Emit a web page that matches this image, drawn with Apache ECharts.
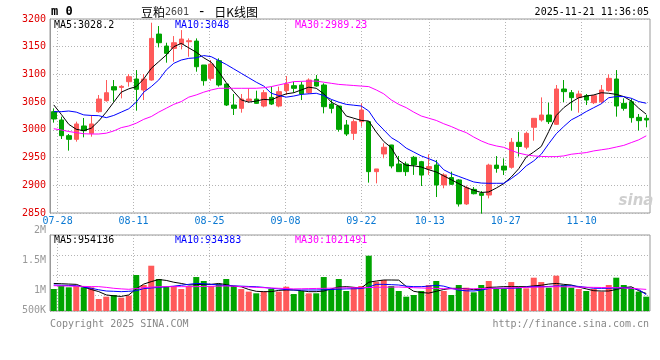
<!DOCTYPE html>
<html><head><meta charset="utf-8">
<script src="https://cdn.jsdelivr.net/npm/echarts@6/dist/echarts.min.js"></script>
<style>html,body{margin:0;padding:0;background:#fff}#c{width:660px;height:360px}</style>
</head><body><div id="c"></div>
<script>
const dates = ['07-25','07-28','07-29','07-30','07-31','08-01','08-04','08-05','08-06','08-07','08-08','08-11','08-12','08-13','08-14','08-15','08-18','08-19','08-20','08-21','08-22','08-25','08-26','08-27','08-28','08-29','09-01','09-02','09-03','09-04','09-05','09-08','09-09','09-10','09-11','09-12','09-15','09-16','09-17','09-18','09-19','09-22','09-23','09-24','09-25','09-26','09-29','09-30','10-09','10-10','10-13','10-14','10-15','10-16','10-17','10-20','10-21','10-22','10-23','10-24','10-27','10-28','10-29','10-30','10-31','11-03','11-04','11-05','11-06','11-07','11-10','11-11','11-12','11-13','11-14','11-17','11-18','11-19','11-20','11-21'];
const opens = [3032.8,3017.8,2989.5,2982.9,3007,2993.7,3032.8,3052.6,3077.9,3076.6,3086.9,3091.7,3071.9,3089.9,3172.8,3151.2,3147,3154.8,3159,3160.2,3117,3092.9,3124.8,3082.7,3044.8,3038.8,3052.6,3055.6,3043,3058.6,3043,3070.7,3079.7,3080.9,3067.1,3091.1,3080.9,3046.6,3043,3008.8,2993.7,3014.8,3014.8,2924.6,2956.5,2972.7,2938.4,2938.4,2950.5,2942.6,2929.5,2936.6,2900.6,2913.9,2909.6,2866.3,2892.7,2885.4,2882.4,2936.4,2934.6,2932.4,2977.6,2968.8,3004.6,3017.8,3026.8,3010,3073.7,3067.1,3058.1,3061.7,3049,3050.8,3070.7,3091.7,3047.8,3050.8,3022.6,3020.8];
const closes = [3019.6,2989.5,2982.9,3010.6,2998.5,3010.6,3055.6,3067,3071.9,3078.5,3095.9,3073.1,3091.7,3165,3157.2,3138,3157.2,3163.8,3160.8,3113.9,3088.7,3118.7,3080.9,3044.8,3038.8,3055.6,3055.6,3047.8,3067.1,3046.6,3068.9,3082.7,3074.9,3064.7,3089.9,3079.1,3041.8,3038.8,3000.9,2992.5,3014.8,3035.8,2924.6,2929.5,2968.6,2934.8,2924.6,2924.6,2936.6,2918.4,2933.7,2900.6,2918.7,2901.8,2866.3,2895.8,2884.8,2881.8,2936.4,2930.5,2927.5,2977.6,2970,2993.7,3020.8,3026.8,3014.8,3073.7,3068.9,3058.1,3064.7,3053.8,3061.7,3071.9,3092.9,3043,3038.8,3022,3016.6,3017.8];
const lows = [3013,2983.5,2962.5,2978.7,2986.5,2987.7,3031,3050.8,3050.8,3056.8,3077.9,3034.6,3053.8,3088.7,3148.8,3121.2,3123,3145.2,3132,3104.9,3079.7,3088.7,3078,3043,3026.8,3031,3049.7,3047,3040.6,3044.8,3040.6,3062.9,3067.1,3053.8,3064.7,3077.9,3029.8,3029.8,2996.8,2989,2981.8,3005.8,2904.8,2903.5,2948.7,2930.6,2924,2916.9,2918.7,2898.7,2918.7,2878.8,2894.6,2900.6,2861.6,2864.5,2883.6,2848.8,2876.4,2922.7,2918.5,2930,2951.8,2965,2980.5,3014.8,3010.6,3008.8,3050.2,3034.6,3031,3044.8,3046.6,3047.8,3069,3023.8,3034.6,3013,2998.6,3004.6];
const highs = [3038.8,3023.8,2992.5,3014.8,3021.4,3026.8,3062.9,3089.9,3089.9,3080.6,3100.7,3107.9,3100.7,3193.3,3187.3,3157.2,3169.2,3180,3165,3165,3117,3126,3129,3083,3064.7,3064.7,3074.9,3070.7,3071.9,3077.9,3077.9,3097.1,3086.9,3086.9,3092.9,3098.9,3084,3053.8,3043,3017.8,3019,3047.8,3014.8,2929.5,2975.8,2973,2952.9,2942.6,2952.9,2944,2955.9,2945.7,2921.7,2924.6,2911,2899.4,2896.8,2889.6,2938.9,2952.7,2948.5,2985.2,2996.4,2996.8,3021,3058.6,3049,3080.9,3089.9,3071.9,3070.7,3064.7,3062.9,3080.9,3100.1,3107.9,3056.8,3056.8,3028.6,3026.8];
const ma5 = [3045,3028,3010,3001,2998.5,3003,3016,3032,3050,3068,3074,3078,3092,3111,3123,3135,3150,3156,3148,3140,3130,3122,3105,3085,3069,3054,3050,3052,3055,3054,3060,3065,3067,3072,3077,3075,3065,3050,3043,3025,3021,3017,3016,2996,2979,2968,2945,2936,2935,2933,2928,2924,2917,2910,2903,2896,2891,2887,2888,2895,2903,2915,2930,2951,2960,2970,2997,3026,3040,3050,3058,3061,3063,3067,3066,3064,3060,3052,3039,3028.2];
const ma10 = [3032.8,3032.8,3034,3032,3027,3026,3025.6,3022,3026,3032,3038,3050,3068,3078,3090,3108,3120,3126,3129,3130,3134,3132,3125,3118,3110,3102,3094,3086,3079,3066,3062,3059,3061,3064,3065,3066,3062,3055,3050,3046,3044.5,3043,3034,3014,3000,2986,2978,2967,2960,2953,2948,2942.6,2928,2921,2916,2911,2906,2904,2903.6,2903.6,2903.6,2912,2922,2935,2944,2956,2975,2993,3006,3018,3025,3033,3040,3047,3058,3060,3060,3057,3051,3048];
const ma30 = [3002,2999.8,2997,2995,2993,2992.5,2992.5,2994,2998,3004,3007,3012,3019,3024,3032,3039,3046,3051,3059,3063,3068,3072,3075,3075,3075,3075,3075,3075,3076,3078,3081,3084,3087,3087.5,3088,3088,3086,3084,3082,3081,3080,3079,3078,3072,3065,3054,3046,3040,3032,3025,3021,3017,3011,3006,3000,2995,2987,2980,2974.5,2971,2968.5,2963,2958,2955,2953,2952,2951.7,2951.7,2953,2956,2957.5,2959,2962,2964,2966,2969,2972,2977,2982,2989.23];
const volumes = [1028000,1078000,1056000,1078000,1056000,1056000,863000,901000,929000,884000,918000,1260000,1094000,1413000,1193000,1066000,1078000,1028000,1078000,1226000,1160000,1078000,1110000,1193000,1078000,1028000,985000,957000,985000,1028000,985000,1066000,945000,995000,957000,957000,1226000,1028000,1193000,995000,1056000,1078000,1578000,1149000,1177000,1078000,995000,901000,929000,995000,1094000,1160000,995000,929000,1094000,1050000,973000,1094000,1160000,1039000,1039000,1143000,1066000,1039000,1215000,1143000,1050000,1248000,1094000,1050000,1028000,995000,1028000,985000,1094000,1215000,1094000,1050000,985000,901000];
const volMa5 = [1120000,1115000,1110000,1105000,1060000,1020000,985000,930000,915000,905000,930000,1030000,1110000,1150000,1185000,1170000,1140000,1120000,1095000,1100000,1105000,1105000,1120000,1100000,1075000,1065000,1020000,990000,984000,985000,1005000,1012000,1012000,1000000,984000,984000,995000,1030000,1060000,1067000,1056000,1045000,1140000,1160000,1177000,1177000,1175000,1070000,990000,970000,960000,990000,1020000,1039000,1039000,1035000,1015000,1030000,1055000,1060000,1067000,1067000,1067000,1067000,1080000,1090000,1110000,1120000,1105000,1094000,1060000,1030000,1000000,995000,995000,1020000,1050000,1065000,1000000,954136];
const volMa10 = [1094000,1090000,1087000,1083000,1060000,1040000,1015000,995000,990000,984000,990000,1000000,1035000,1045000,1055000,1065000,1075000,1090000,1105000,1120000,1115000,1105000,1095000,1085000,1080000,1075000,1070000,1065000,1055000,1040000,1030000,1020000,1012000,1012000,1012000,1012000,1015000,1020000,1025000,1030000,1032000,1035000,1060000,1105000,1105000,1100000,1094000,1075000,1067000,1067000,1075000,1090000,1075000,1040000,1010000,998000,995000,1010000,1035000,1039000,1039000,1039000,1045000,1060000,1067000,1067000,1070000,1078000,1080000,1083000,1070000,1055000,1040000,1039000,1040000,1045000,1050000,1040000,1020000,934383];
const volMa30 = [1083000,1080000,1077000,1074000,1071000,1068000,1067000,1055000,1040000,1030000,1023000,1035000,1050000,1060000,1065000,1067000,1067000,1067000,1067000,1067000,1070000,1073000,1076000,1078000,1074000,1068000,1060000,1055000,1050000,1045000,1040000,1035000,1030000,1032000,1035000,1037000,1039000,1042000,1045000,1048000,1049000,1050000,1052000,1055000,1058000,1060000,1061000,1055000,1050000,1045000,1040000,1037000,1034000,1031000,1028000,1030000,1033000,1036000,1038000,1039000,1043000,1047000,1051000,1055000,1058000,1061000,1064000,1067000,1065000,1062000,1059000,1057000,1055000,1053000,1051000,1050000,1045000,1040000,1030000,1021491];
const dateTickLabels = ['07-28','08-11','08-25','09-08','09-22','10-13','10-27','11-10'];
const priceTicks = {min: 2850, max: 3200, step: 50};
const volTicks = {min: 500000, max: 2000000, step: 500000};

const RED = '#ff5a5a', GREEN = '#00a400';
const MONO = 'DejaVu Sans Mono';
const lineIdx = dateTickLabels.map(d => dates.indexOf(d));
const dotted = {color: '#b4b4b4', width: 1, type: [1, 2]};
const upDown = closes.map((c, i) => c >= opens[i]);

function fmtVol(v) {
  if (v >= 1000000) return (v / 1000000) + 'M';
  return (v / 1000) + 'K';
}
// hidden band axis that positions the candles / bars
function bandAxis(gi) {
  return {type: 'category', gridIndex: gi, data: dates, boundaryGap: true, show: false};
}
// point axis that carries the date grid lines and labels
function lineAxis(gi, withLabels) {
  return {
    type: 'category', gridIndex: gi, data: dates, boundaryGap: false, position: 'bottom',
    axisLine: {show: false}, axisTick: {show: false},
    axisLabel: withLabels ? {
      interval: (i) => lineIdx.includes(i), margin: 3,
      fontFamily: MONO, fontSize: 10, color: '#0a78d2'
    } : {show: false},
    splitLine: {show: true, interval: (i) => lineIdx.includes(i), lineStyle: dotted}
  };
}
const volMin = 664500, volMax = 1920700;

const chart = echarts.init(document.getElementById('c'), null, {renderer: 'canvas'});
const last = a => a[a.length - 1];
const txt = (x, y, s, color, extra) => ({type: 'text', x, y, silent: true,
  style: Object.assign({text: s, fill: color, font: '10px "' + MONO + '"', verticalAlign: 'middle'}, extra || {})});

chart.setOption({
  animation: false,
  backgroundColor: '#fff',
  grid: [
    {left: 50, top: 19, width: 600, height: 194, show: true, borderColor: '#999', borderWidth: 1, backgroundColor: 'transparent'},
    {left: 50, top: 235, width: 600, height: 76, show: true, borderColor: '#999', borderWidth: 1, backgroundColor: 'transparent'},
    {left: 50, top: 230, width: 600, height: 90.7, show: false}
  ],
  xAxis: [
    bandAxis(0),
    lineAxis(0, true),
    bandAxis(1),
    lineAxis(1, false),
    {type: 'value', gridIndex: 2, show: false, min: 0, max: 1}
  ],
  yAxis: [
    {type: 'value', gridIndex: 0, min: priceTicks.min, max: priceTicks.max, interval: priceTicks.step,
     axisLine: {show: true, lineStyle: {color: '#999', width: 1}}, axisTick: {show: false},
     axisLabel: {color: '#e00000', fontFamily: MONO, fontSize: 10, margin: 4, padding: [0, 0, 5, 0],
       formatter: (v) => String(v)},
     splitLine: {show: true, lineStyle: dotted}},
    {type: 'value', gridIndex: 1, min: volMin, max: volMax,
     axisLine: {show: true, lineStyle: {color: '#999'}}, axisTick: {show: false},
     axisLabel: {show: false}, splitLine: {show: false}},
    {type: 'value', gridIndex: 1, min: 0, max: 3.8, interval: 1, inverse: true,
     axisLine: {show: false}, axisTick: {show: false}, axisLabel: {show: false},
     splitLine: {show: true, lineStyle: dotted}},
    {type: 'value', gridIndex: 2, min: volTicks.min, max: volTicks.max, interval: volTicks.step,
     axisLine: {show: false}, axisTick: {show: false}, splitLine: {show: false},
     axisLabel: {margin: 4, color: '#999',
       formatter: (v) => v === volTicks.min ? '{lo|' + fmtVol(v) + '}' : '{n|' + fmtVol(v) + '}',
       rich: {n: {fontFamily: MONO, fontSize: 10, color: '#999'},
              lo: {fontFamily: MONO, fontSize: 10, color: '#999', padding: [0, 0, 20, 0]}}}}
  ],
  series: [
    {type: 'candlestick', xAxisIndex: 0, yAxisIndex: 0, barWidth: 5, silent: true,
     data: opens.map((o, i) => [o, closes[i], lows[i], highs[i]]),
     itemStyle: {color: RED, color0: GREEN, borderColor: RED, borderColor0: GREEN, borderWidth: 1}},
    {type: 'line', xAxisIndex: 0, yAxisIndex: 0, data: ma5, showSymbol: false, silent: true, lineStyle: {color: '#000', width: 1}},
    {type: 'line', xAxisIndex: 0, yAxisIndex: 0, data: ma10, showSymbol: false, silent: true, lineStyle: {color: '#0000ff', width: 1}},
    {type: 'line', xAxisIndex: 0, yAxisIndex: 0, data: ma30, showSymbol: false, silent: true, lineStyle: {color: '#ff00ff', width: 1}},
    {type: 'bar', xAxisIndex: 2, yAxisIndex: 1, barWidth: 6, silent: true,
     data: volumes.map((v, i) => ({value: v, itemStyle: {color: upDown[i] ? RED : GREEN}}))},
    {type: 'line', xAxisIndex: 2, yAxisIndex: 1, data: volMa5, showSymbol: false, silent: true, lineStyle: {color: '#000', width: 1}},
    {type: 'line', xAxisIndex: 2, yAxisIndex: 1, data: volMa10, showSymbol: false, silent: true, lineStyle: {color: '#0000ff', width: 1}},
    {type: 'line', xAxisIndex: 2, yAxisIndex: 1, data: volMa30, showSymbol: false, silent: true, lineStyle: {color: '#ff00ff', width: 1}}
  ],
  graphic: [
    txt(51, 12, 'm 0', '#000', {font: 'bold 12px "' + MONO + '"'}),
    {type: 'text', x: 141, y: 12, silent: true, style: {
      text: '{a|豆粕}{b|2601}{c| - }{a|日K线图}', verticalAlign: 'middle',
      rich: {a: {font: '12px "Noto Sans CJK SC"', fill: '#000'},
             b: {font: '10px "' + MONO + '"', fill: '#444'},
             c: {font: '14px "' + MONO + '"', fill: '#000'}}}},
    txt(649, 12, '2025-11-21 11:36:05', '#000', {align: 'right'}),
    txt(54, 25, 'MA5:' + last(ma5), '#000'),
    txt(175, 25, 'MA10:' + last(ma10), '#0000ff'),
    txt(295, 25, 'MA30:' + last(ma30), '#ff00ff'),
    txt(54, 240, 'MA5:' + last(volMa5), '#000'),
    txt(175, 240, 'MA10:' + last(volMa10), '#0000ff'),
    txt(295, 240, 'MA30:' + last(volMa30), '#ff00ff'),
    txt(50, 324, 'Copyright 2025 SINA.COM', '#888'),
    txt(649, 324, 'http://finance.sina.com.cn', '#888', {align: 'right'}),
    {type: 'text', x: 636, y: 201, silent: true, style: {text: 'sina', fill: '#cfcfcf',
      font: 'italic bold 15px "DejaVu Sans"', align: 'center', verticalAlign: 'middle'}}
  ]
});
</script></body></html>
